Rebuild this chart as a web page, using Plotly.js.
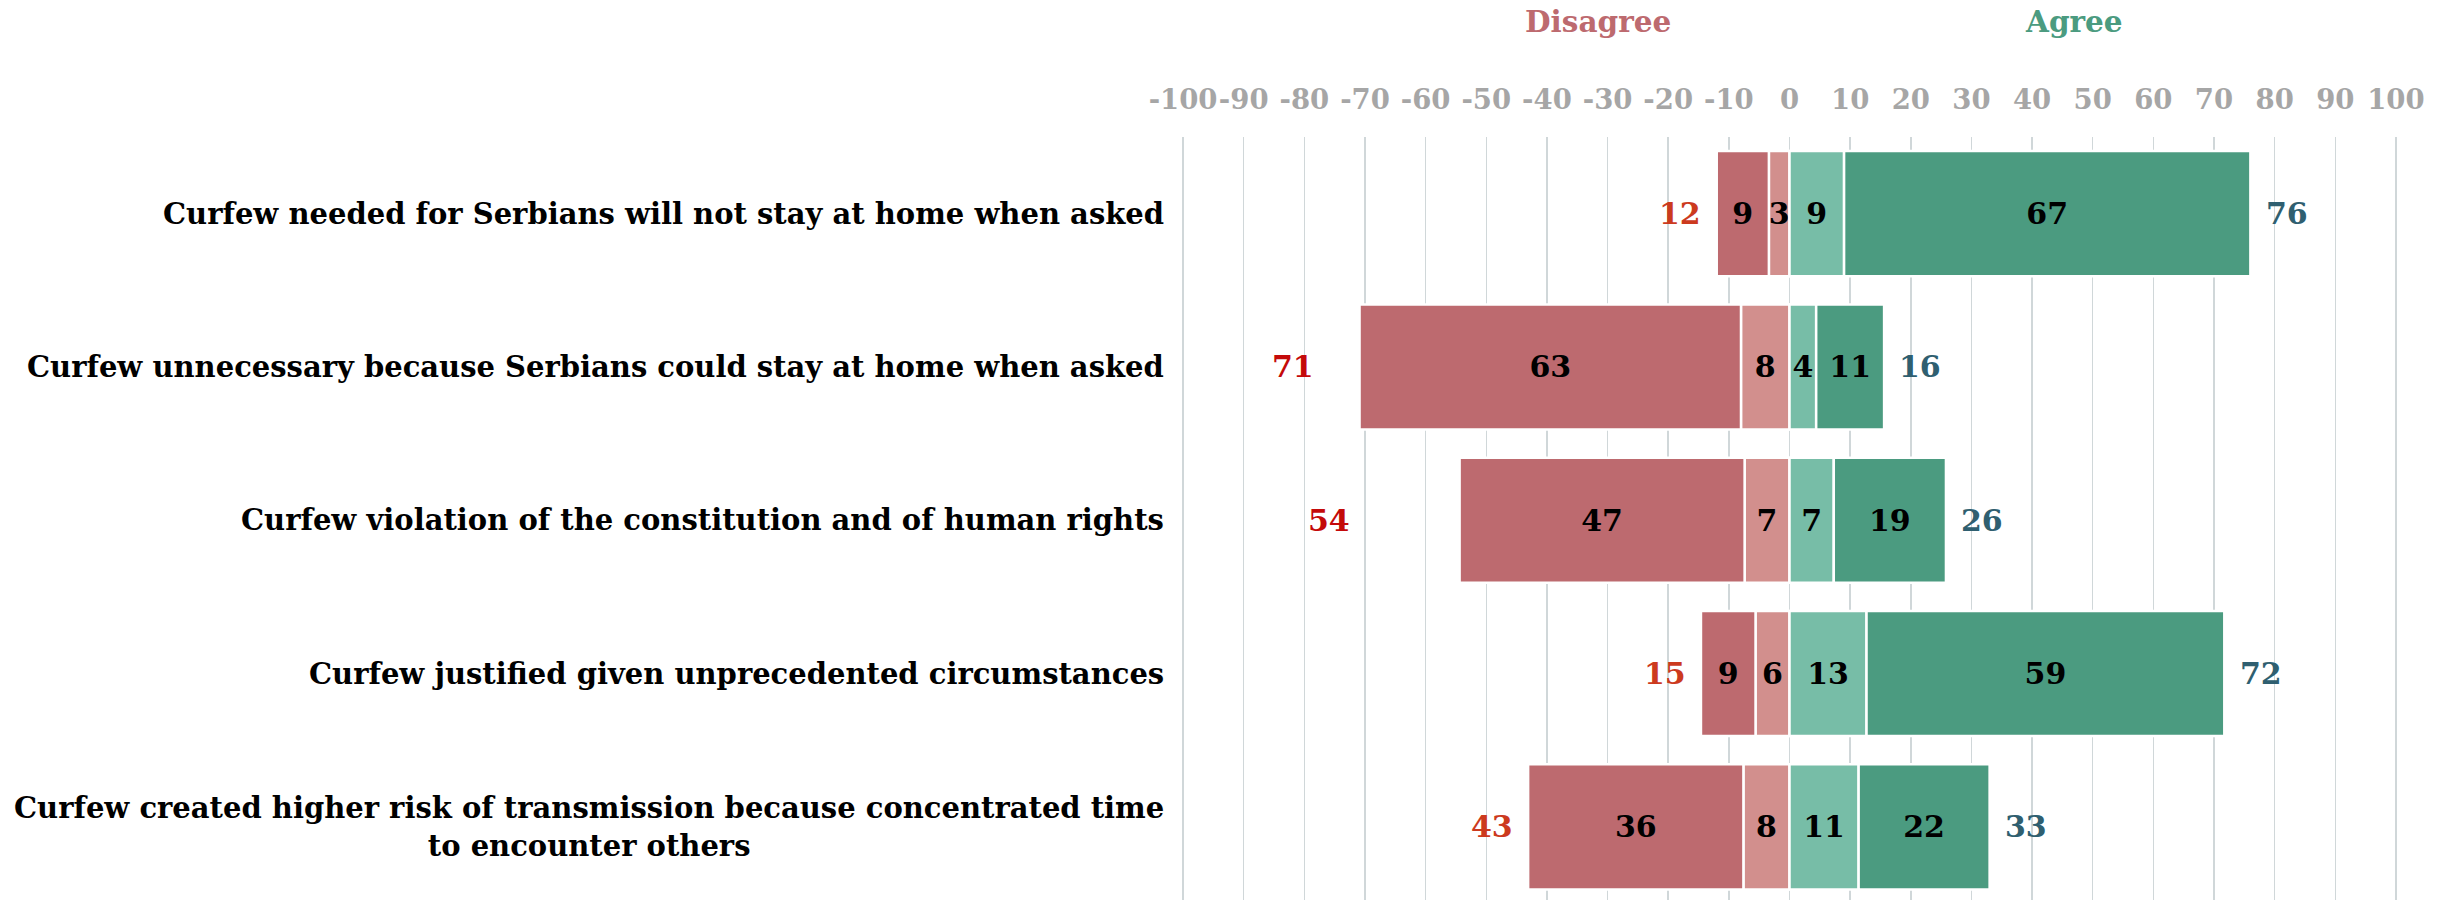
<!DOCTYPE html>
<html>
<head>
<meta charset="utf-8">
<script src="https://cdn.plot.ly/plotly-3.0.1.min.js"></script>
<style>
  html, body { margin: 0; padding: 0; background: #ffffff; overflow: hidden; }
  #chart { width: 2451px; height: 900px; }
</style>
</head>
<body>
<div id="chart"></div>
<script>
// ---- Data ----
const statements = [
  "Curfew needed for Serbians will not stay at home when asked",
  "Curfew unnecessary because Serbians could stay at home when asked",
  "Curfew violation of the constitution and of human rights",
  "Curfew justified given unprecedented circumstances",
  "Curfew created higher risk of transmission because concentrated time<br>to encounter others"
];
const stronglyDisagree = [8.6, 62.9, 47.0, 9.0, 35.5];
const disagree         = [3.4, 8.0, 7.4, 5.6, 7.6];
const agree            = [9.0, 4.4, 7.3, 12.7, 11.4];
const stronglyAgree    = [67.0, 11.2, 18.5, 59.0, 21.6];
const tickValues = [-100, -90, -80, -70, -60, -50, -40, -30, -20, -10, 0, 10, 20, 30, 40, 50, 60, 70, 80, 90, 100];
const sideTitles = ["Disagree", "Agree"];

// ---- Styling ----
const FONT = "DejaVu Serif, Georgia, serif";
const C_DARK_RED = "#BD6A6F", C_LIGHT_RED = "#D28F8D";
const C_LIGHT_GREEN = "#77BDA7", C_DARK_GREEN = "#4B9B80";
const LABEL_SIZE = 29;
const NUM_SIZE = 30;
const totalGap = [6, 11, 21.5, 6, 6];   // horizontal gap (axis units) between bar end and total label

const cats = statements.map((s, i) => "s" + i);
const neg = a => a.map(v => -v);
const rnd = a => a.map(v => String(Math.round(v)));

function barTrace(vals, color, negative) {
  return {
    type: "bar", orientation: "h",
    y: cats, x: negative ? neg(vals) : vals,
    text: rnd(vals), textposition: "inside", insidetextanchor: "middle",
    constraintext: "none", textangle: 0,
    textfont: { family: FONT, size: NUM_SIZE, color: "#000000", weight: "bold" },
    marker: { color: color, line: { color: "#ffffff", width: 2.5 } },
    hoverinfo: "skip", showlegend: false
  };
}

const traces = [
  barTrace(disagree, C_LIGHT_RED, true),
  barTrace(stronglyDisagree, C_DARK_RED, true),
  barTrace(agree, C_LIGHT_GREEN, false),
  barTrace(stronglyAgree, C_DARK_GREEN, false)
];

const annotations = [];
statements.forEach((s, i) => {
  annotations.push({
    xref: "paper", yref: "y", x: 0, y: cats[i], xanchor: "right", yanchor: "middle",
    xshift: -11, text: "<b>" + s + "</b>", align: "center", showarrow: false,
    font: { family: FONT, size: LABEL_SIZE, color: "#000000" }
  });
  const totNeg = stronglyDisagree[i] + disagree[i];
  const totPos = agree[i] + stronglyAgree[i];
  annotations.push({
    xref: "x", yref: "y", x: -totNeg - totalGap[i], y: cats[i], xanchor: "center", yanchor: "middle",
    text: "<b>" + Math.round(totNeg) + "</b>", showarrow: false,
    font: { family: FONT, size: NUM_SIZE, color: totNeg > 50 ? "#C40A0A" : "#CC3A1E" }
  });
  annotations.push({
    xref: "x", yref: "y", x: totPos + 6, y: cats[i], xanchor: "center", yanchor: "middle",
    text: "<b>" + Math.round(totPos) + "</b>", showarrow: false,
    font: { family: FONT, size: NUM_SIZE, color: "#2F5F70" }
  });
});
annotations.push({
  xref: "x", yref: "paper", x: -31.6, y: 1.151, xanchor: "center", yanchor: "middle",
  text: "<b>" + sideTitles[0] + "</b>", showarrow: false,
  font: { family: FONT, size: 29.5, color: C_DARK_RED }
});
annotations.push({
  xref: "x", yref: "paper", x: 46.9, y: 1.151, xanchor: "center", yanchor: "middle",
  text: "<b>" + sideTitles[1] + "</b>", showarrow: false,
  font: { family: FONT, size: 29.5, color: C_DARK_GREEN }
});

const layout = {
  width: 2451, height: 900,
  margin: { l: 1177, r: 49, t: 137, b: 0, pad: 0 },
  paper_bgcolor: "#ffffff", plot_bgcolor: "#ffffff",
  barmode: "relative", bargap: 0.184,
  xaxis: {
    range: [-101, 101], side: "top", tickmode: "array", tickvals: tickValues,
    ticktext: tickValues.map(String), tickangle: 0,
    showgrid: true, gridcolor: "#D0D7D9", gridwidth: 1.5, zeroline: false, showline: false,
    ticks: "", ticklabelstandoff: 22,
    tickfont: { family: FONT, size: 27.5, color: "#A6A6A6", weight: "bold" },
    fixedrange: true
  },
  yaxis: {
    type: "category", categoryorder: "array", categoryarray: cats,
    range: [4.477, -0.5], showticklabels: false, showgrid: false, zeroline: false, showline: false,
    ticks: "", fixedrange: true
  },
  annotations: annotations,
  font: { family: FONT }
};

Plotly.newPlot("chart", traces, layout, { displayModeBar: false, staticPlot: true });
</script>
</body>
</html>
